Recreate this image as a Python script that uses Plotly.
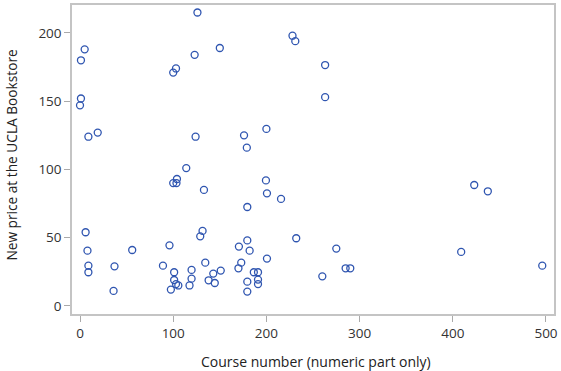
import plotly.graph_objects as go

course_number = [5, 1, 123, 150, 126, 103, 100, 1, 0, 9, 19, 124, 176, 179,
                 228, 231, 263, 263, 200,
                 114, 104, 100, 103.5, 133, 179.5, 6, 131.5, 129, 179.5, 170.5, 182,
                 8, 56, 96, 9, 9, 37, 36, 89, 101, 101, 103, 105.5, 97.5,
                 119.7, 119.7, 117.5, 134.4, 138, 143, 144.6, 151, 173, 170,
                 179.5, 179.5, 186.5, 191, 191, 191,
                 199.5, 200.6, 215.7, 232, 275, 200.6, 260, 285, 290,
                 423, 437.6, 409, 496]
new_price = [188, 180, 184, 189, 215, 174, 171, 152, 147, 124, 127, 124, 125, 116,
             198, 194, 176.5, 153, 129.7,
             101, 93, 90, 90, 85, 72.5, 54, 55, 51, 48, 43.5, 40.5,
             40.5, 41, 44.4, 29.5, 24.7, 29, 11, 29.5, 24.7, 19, 16, 15, 12,
             26.4, 20, 15, 31.7, 18.8, 23.7, 16.8, 25.9, 31.7, 27.6,
             17.8, 10.5, 24.7, 24.7, 19.3, 16,
             92, 82.5, 78.4, 49.6, 42, 34.7, 21.7, 27.6, 27.6,
             88.6, 84, 39.6, 29.5]

x_ticks = [0, 100, 200, 300, 400, 500]
y_ticks = [0, 50, 100, 150, 200]
x_title = "Course number (numeric part only)"
y_title = "New price at the UCLA Bookstore"

FONT = "Open Sans, Noto Sans, sans-serif"

fig = go.Figure(go.Scatter(
    x=course_number, y=new_price, mode="markers",
    marker=dict(symbol="circle-open", size=7, color="#2f55b0",
                line=dict(width=1.3, color="#2f55b0")),
))

axis_common = dict(
    showgrid=False, zeroline=False, showline=True, linecolor="#c4c4c4",
    linewidth=1.5, mirror=True, ticks="outside", ticklen=6, tickcolor="#aaaaaa",
    tickwidth=1, tickfont=dict(size=13.5, color="#333333", family=FONT),
    automargin=False,
)

fig.update_layout(
    width=561, height=371,
    margin=dict(l=72, r=7, t=5, b=57),
    plot_bgcolor="white", paper_bgcolor="white",
    font=dict(family=FONT, size=13.5, color="#333333"),
    showlegend=False,
    xaxis=dict(range=[-8.6, 508.6], tickvals=x_ticks, **axis_common),
    yaxis=dict(range=[-5.9, 220.5], tickvals=y_ticks, **axis_common),
    annotations=[
        dict(text=x_title, xref="paper", yref="paper", x=0.506, y=-0.155,
             xanchor="center", yanchor="middle", showarrow=False,
             font=dict(size=14, color="#222222", family=FONT)),
        dict(text=y_title, xref="paper", yref="paper", x=-0.125, y=0.515,
             xanchor="center", yanchor="middle", showarrow=False, textangle=-90,
             font=dict(size=13.7, color="#222222", family=FONT)),
    ],
)

fig.write_html("out.html", config={"displayModeBar": False})

with open("out.html", encoding="utf-8") as f:
    html = f.read()
html = html.replace("<head>", "<head><style>html,body{margin:0;padding:0;overflow:hidden}</style>", 1)
with open("out.html", "w", encoding="utf-8") as f:
    f.write(html)
